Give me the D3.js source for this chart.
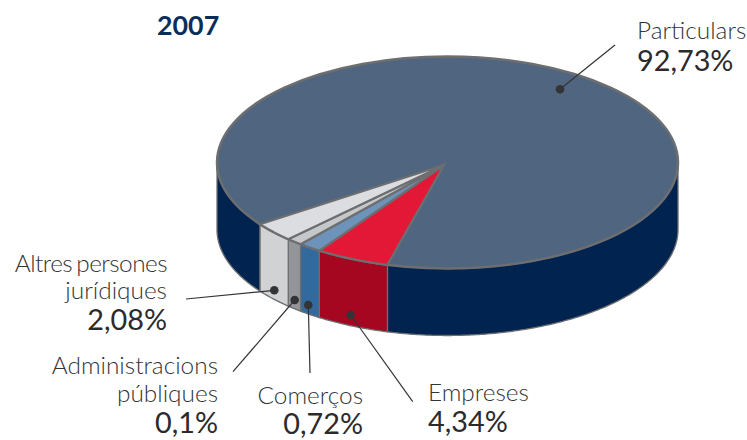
<!DOCTYPE html>
<html><head><meta charset="utf-8">
<script src="https://cdnjs.cloudflare.com/ajax/libs/d3/7.8.5/d3.min.js"></script>
<style>html,body{margin:0;background:#fff}svg{display:block}</style></head>
<body><svg id="c" width="747" height="440"></svg>
<script>
// Data
const year = "2007";
const categories = ["Particulars","Empreses","Comerços","Administracions públiques","Altres persones jurídiques"];
const shares = ["92,73%","4,34%","0,72%","0,1%","2,08%"];
// Sweep of each slice as drawn in the picture (the original is not to scale), degrees
const drawnSweep = [320.7,18.7,5.8,4.1,10.7];
const topColors = ["#50657f","#e31837","#6d93ba","#c5c7c9","#dcdde0"];
const sideColors = ["#00234f","#a50620","#336a9e","#939598","#d1d2d4"];

// Layout
const cx=447.5, cy=162.5, rx=230.5, ry=106, depth=67, apex=[444,165], startDeg=234.4;
const labels = [
 {lines:["Particulars"],pct:[637,70.5],anchor:"start",first:[637,39],dot:[560,89.3],end:[615,45]},
 {lines:["Empreses"],pct:[428,432],anchor:"start",first:[428,400.7],dot:[350.7,315],end:[412.7,401.7]},
 {lines:["Comerços"],pct:[363,433.8],anchor:"end",first:[363,404],dot:[308.3,305],end:[310,373]},
 {lines:["Administracions","públiques"],pct:[218,432.7],anchor:"end",first:[218,374.3],dot:[294.7,300],end:[233,371.7]},
 {lines:["Altres persones","jurídiques"],pct:[167,330],anchor:"end",first:[167,272],dot:[274.3,290.3],end:[186,299]}
];

const svg=d3.select("#c");
const rad=d3.scaleLinear().domain([0,360]).range([0,2*Math.PI]);
const pie=d3.pie().sort(null).value(d=>d)
  .startAngle(rad(startDeg)).endAngle(rad(startDeg+360));
const arcs=pie(drawnSweep);
const px=a=>cx+rx*Math.sin(a), py=a=>cy-ry*Math.cos(a);
const samples=(a0,a1)=>{const n=Math.max(2,Math.ceil((a1-a0)/0.01));return d3.range(n+1).map(i=>a0+(a1-a0)*i/n);};
const line=d3.line();

const frontRanges=(a0,a1)=>{
  const out=[];
  [[rad(90),rad(270)],[rad(450),rad(630)]].forEach(([f0,f1])=>{
    const s=Math.max(a0,f0),e=Math.min(a1,f1);
    if(e>s) out.push([s,e]);
  });
  return out;
};
const gSide=svg.append("g");
arcs.forEach((d,i)=>{
  frontRanges(d.startAngle,d.endAngle).forEach(([s,e])=>{
    const upper=samples(s,e).map(a=>[px(a),py(a)]);
    const lower=samples(s,e).reverse().map(a=>[px(a),py(a)+depth]);
    gSide.append("path").attr("d",line(upper.concat(lower))+"Z")
      .attr("fill",sideColors[i]).attr("stroke","#6d6e70").attr("stroke-width",1.3).attr("stroke-linejoin","round");
  });
});

const gTop=svg.append("g");
gTop.append("ellipse").attr("cx",cx).attr("cy",cy).attr("rx",rx).attr("ry",ry)
  .attr("fill",topColors[0]).attr("stroke","#6d6e70").attr("stroke-width",2.5);
arcs.forEach((d,i)=>{
  if(i===0) return;
  const pts=[apex].concat(samples(d.startAngle,d.endAngle).map(a=>[px(a),py(a)]));
  gTop.append("path").attr("d",line(pts)+"Z").attr("fill",topColors[i])
    .attr("stroke","#6d6e70").attr("stroke-width",2.2).attr("stroke-linejoin","miter").attr("stroke-miterlimit",8);
});

const gL=svg.append("g");
labels.forEach(l=>{
  gL.append("line").attr("x1",l.dot[0]).attr("y1",l.dot[1]).attr("x2",l.end[0]).attr("y2",l.end[1])
    .attr("stroke","#333436").attr("stroke-width",1.2);
  gL.append("circle").attr("cx",l.dot[0]).attr("cy",l.dot[1]).attr("r",4.3).attr("fill","#333436");
});

const font="Lato, 'Open Sans', sans-serif";
svg.append("text").attr("x",157).attr("y",34.5).text(year)
  .attr("font-family",font).attr("font-weight",700).attr("font-size",26.8).attr("fill","#0b2d5b");
labels.forEach((l,i)=>{
  l.lines.forEach((t,j)=>{
    const multi=t.includes(" ");
    svg.append("text").attr("x",l.first[0]).attr("y",l.first[1]+j*27.3).attr("text-anchor",l.anchor)
      .attr("font-family",font).attr("font-weight",300).attr("font-size",24.4).attr("fill","#333436")
      .attr("letter-spacing",multi?-0.55:0).attr("word-spacing",multi?-2:0).text(t);
  });
  svg.append("text").attr("x",l.pct[0]).attr("y",l.pct[1]).attr("text-anchor",l.anchor)
    .attr("font-family",font).attr("font-weight",400).attr("font-size",28.8).attr("fill","#2b2a2c").text(shares[i]);
});
</script></body></html>
